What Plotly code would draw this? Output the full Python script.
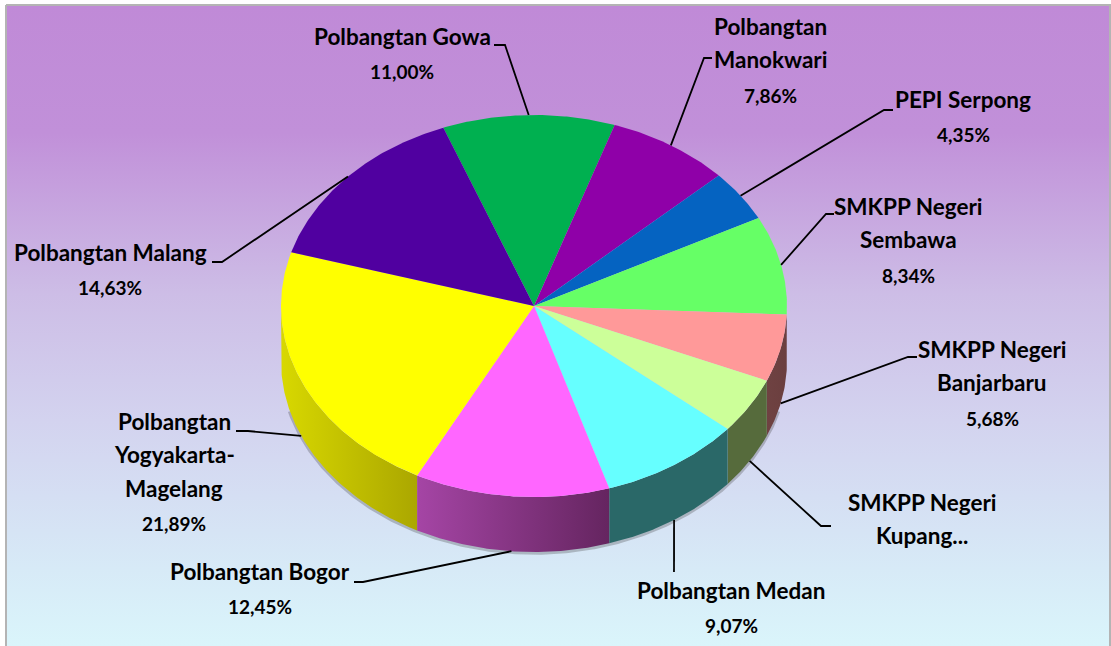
import numpy as np
import plotly.graph_objects as go

names = ["Polbangtan Gowa", "Polbangtan Manokwari", "PEPI Serpong", "SMKPP Negeri Sembawa",
         "SMKPP Negeri Banjarbaru", "SMKPP Negeri Kupang", "Polbangtan Medan", "Polbangtan Bogor",
         "Polbangtan Yogyakarta-Magelang", "Polbangtan Malang"]
shares = [11.00, 7.86, 4.35, 8.34, 5.68, 4.73, 9.07, 12.45, 21.89, 14.63]
top_colors = ["#00B050", "#8F00A8", "#0563C1", "#66FF66", "#FF9999",
              "#CCFF99", "#66FFFF", "#FF66FF", "#FFFF00", "#5000A0"]
wall_colors = [None, None, None, ["#2F7A2F", "#2F7A2F"], ["#6F4242", "#6B3F3F"],
               ["#566B3C", "#566B3C"], ["#2A6868", "#2A6868"], ["#A545A5", "#652560"],
               ["#D8D800", "#ABA700"], None]

# how each label is broken over lines, as in the picture
label_lines = [["Polbangtan Gowa"], ["Polbangtan", "Manokwari"], ["PEPI Serpong"],
               ["SMKPP Negeri", "Sembawa"], ["SMKPP Negeri", "Banjarbaru"], ["SMKPP Negeri", "Kupang..."],
               ["Polbangtan Medan"], ["Polbangtan Bogor"], ["Polbangtan", "Yogyakarta-", "Magelang"],
               ["Polbangtan Malang"]]
show_value = [True, True, True, True, True, False, True, True, True, True]
label_x = [402, 770, 963, 908, 992, 922, 731, 260, 174, 110]
label_y = [36, 26, 99, 206, 349, 502, 590, 571, 421, 252]
line_gap = 33.6
# elbow and end of each leader line
elbows = [(505, 45), (704, 58), (884, 110), (826, 214), (908, 357),
          (821, 526), (674, 572), (363, 582), (248, 431), (222, 262)]
ends = [(494, 45), (712, 58), (893, 110), (834, 214), (917, 357),
        (831, 526), (674, 572), (354, 582), (236, 431), (212, 262)]

cx, cy, rx, ry, depth = 534, 306, 253, 191, 55
start_angle = -21.0


def arc(a0, a1, drop=0):
    t = np.radians(np.linspace(a0, a1, max(int(abs(a1 - a0) * 2), 2)))
    return cx + rx * np.sin(t), cy - ry * np.cos(t) + drop


fig = go.Figure()

# page background
fig.add_trace(go.Scatter(
    x=[6, 1110, 1110, 6, 6], y=[5, 5, 652, 652, 5], mode="lines", fill="toself",
    line=dict(color="#B4B4B4", width=2),
    fillgradient=dict(type="vertical", start=646, stop=5,
                      colorscale=[[0, "#DAF5FB"], [0.12, "#D7EAF7"], [0.35, "#D3D3EF"],
                                  [0.55, "#CDBDE6"], [0.8, "#C190D9"], [1, "#C08AD7"]]),
    hoverinfo="skip"))

edges = start_angle + 3.6 * np.concatenate([[0], np.cumsum(shares)])

# soft shadow under the side wall
sx, sy = arc(105, 255, depth + 1)
fig.add_trace(go.Scatter(x=sx, y=sy, mode="lines", hoverinfo="skip",
                         line=dict(color="rgba(70,70,70,0.3)", width=3.5)))

# side wall, only the front half shows
for i in range(len(shares)):
    if wall_colors[i] is None:
        continue
    a0, a1 = max(edges[i], 90), min(edges[i + 1], 270)
    if a1 <= a0:
        continue
    tx, ty = arc(a0, a1)
    bx, by = arc(a1, a0, depth)
    xs = np.concatenate([tx, bx, tx[:1]])
    ys = np.concatenate([ty, by, ty[:1]])
    c0, c1 = wall_colors[i]
    fig.add_trace(go.Scatter(
        x=xs, y=ys, mode="lines", fill="toself", line=dict(width=0), hoverinfo="skip",
        fillgradient=dict(type="horizontal", colorscale=[[0, c0], [1, c1]])))

# top face
for i in range(len(shares)):
    ax, ay = arc(edges[i], edges[i + 1])
    xs = np.concatenate([[cx], ax, [cx]])
    ys = np.concatenate([[cy], ay, [cy]])
    fig.add_trace(go.Scatter(x=xs, y=ys, mode="lines", fill="toself", fillcolor=top_colors[i],
                             line=dict(width=0), name=names[i], hoverinfo="name"))

# leader lines start on the pie edge at the middle of each slice
for i in range(len(shares)):
    mid = (edges[i] + edges[i + 1]) / 2
    t = np.radians(mid)
    px = cx + rx * np.sin(t)
    py = cy - ry * np.cos(t)
    if 90 < mid < 270:
        py += depth
    fig.add_trace(go.Scatter(x=[px, elbows[i][0], ends[i][0]], y=[py, elbows[i][1], ends[i][1]],
                             mode="lines", line=dict(color="black", width=1.8), hoverinfo="skip"))

annotations = []
for i in range(len(shares)):
    for j, txt in enumerate(label_lines[i]):
        annotations.append(dict(x=label_x[i], y=label_y[i] + j * line_gap, text=f"<b>{txt}</b>",
                                showarrow=False, xanchor="center", yanchor="middle",
                                font=dict(family="Lato", size=22.5, color="black")))
    if show_value[i]:
        # the value line runs narrower than the names
        annotations.append(dict(x=label_x[i], y=label_y[i] + len(label_lines[i]) * line_gap + 2,
                                text="<b>" + f"{shares[i]:.2f}%".replace(".", ",") + "</b>",
                                showarrow=False, xanchor="center", yanchor="middle",
                                font=dict(family="Lato", size=19, color="black")))

fig.update_layout(
    width=1111, height=646, margin=dict(l=0, r=0, t=0, b=0), showlegend=False,
    paper_bgcolor="white", plot_bgcolor="white",
    xaxis=dict(range=[0, 1111], visible=False, fixedrange=True),
    yaxis=dict(range=[646, 0], visible=False, fixedrange=True),
    annotations=annotations)

fig.write_html("out.html", post_script="document.body.style.margin='0';", config={"displayModeBar": False})
